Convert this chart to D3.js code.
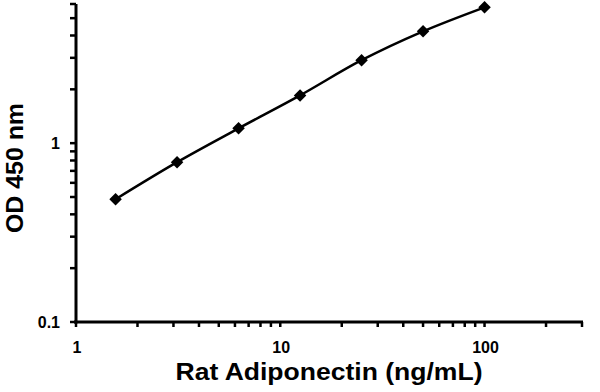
<!DOCTYPE html>
<html>
<head>
<meta charset="utf-8">
<script src="https://cdn.jsdelivr.net/npm/d3@7"></script>
<style>
  body { margin: 0; background: #fff; }
  text { font-family: "Liberation Sans", Arial, sans-serif; font-weight: bold; fill: #000; }
</style>
</head>
<body>
<div id="chart"></div>
<script>
// data
const concentration = [1.5625, 3.125, 6.25, 12.5, 25, 50, 100];
const od450 = [0.486, 0.783, 1.21, 1.85, 2.91, 4.22, 5.75];

const xTickLabels = [1, 10, 100];
const yTickLabels = [0.1, 1];
const xMinor = [2, 3, 4, 5, 6, 7, 8, 9, 20, 30, 40, 50, 60, 70, 80, 90, 200, 300];
const yMinor = [0.2, 0.3, 0.4, 0.5, 0.6, 0.7, 0.8, 0.9, 2, 3, 4, 5, 6];

const width = 600, height = 392;

const svg = d3.select('#chart')
    .append('svg')
    .attr('width', width)
    .attr('height', height);

const x = d3.scaleLog().domain([1, 300]).range([76, 582]);
const y = d3.scaleLog().domain([0.1, 6]).range([322, 4]);

// x axis
const xAxis = svg.append('g').attr('transform', 'translate(0,322)');
xAxis.append('line')
    .attr('x1', x(1) - 2).attr('x2', x(300) + 1)
    .attr('stroke', '#000').attr('stroke-width', 3);
xAxis.selectAll('.tick')
    .data(xTickLabels.concat(xMinor))
    .enter().append('line')
    .attr('x1', d => x(d)).attr('x2', d => x(d))
    .attr('y1', 0).attr('y2', 5)
    .attr('stroke', '#000').attr('stroke-width', 2.5);
xAxis.selectAll('.lbl')
    .data(xTickLabels)
    .enter().append('text')
    .attr('x', d => x(d) + 1)
    .attr('y', 31)
    .attr('text-anchor', 'middle')
    .style('font-size', '16px')
    .text(d => d);

// y axis
const yAxis = svg.append('g').attr('transform', 'translate(76,0)');
yAxis.append('line')
    .attr('y1', y(6) ).attr('y2', y(0.1) + 1.5)
    .attr('stroke', '#000').attr('stroke-width', 3);
yAxis.selectAll('.tick')
    .data(yTickLabels.concat(yMinor))
    .enter().append('line')
    .attr('y1', d => y(d)).attr('y2', d => y(d))
    .attr('x1', -6).attr('x2', 0)
    .attr('stroke', '#000').attr('stroke-width', 2.5);
yAxis.selectAll('.lbl')
    .data(yTickLabels)
    .enter().append('text')
    .attr('x', -16)
    .attr('y', d => y(d) + 6)
    .attr('text-anchor', 'end')
    .style('font-size', '16px')
    .text(d => d);

// axis titles
svg.append('text')
    .attr('x', 329).attr('y', 380)
    .attr('text-anchor', 'middle')
    .attr('textLength', 307)
    .attr('lengthAdjust', 'spacingAndGlyphs')
    .style('font-size', '23px')
    .text('Rat Adiponectin (ng/mL)');

svg.append('text')
    .attr('transform', 'translate(23,168) rotate(-90)')
    .attr('text-anchor', 'middle')
    .attr('textLength', 130)
    .attr('lengthAdjust', 'spacingAndGlyphs')
    .style('font-size', '23px')
    .text('OD 450 nm');

// curve + markers
const points = concentration.map((c, i) => [c, od450[i]]);

svg.append('path')
    .datum(points)
    .attr('fill', 'none')
    .attr('stroke', '#000')
    .attr('stroke-width', 2.5)
    .attr('d', d3.line()
        .x(d => x(d[0]))
        .y(d => y(d[1]))
        .curve(d3.curveCatmullRom));

svg.selectAll('.pt')
    .data(points)
    .enter().append('path')
    .attr('transform', d => `translate(${x(d[0])},${y(d[1])}) rotate(45)`)
    .attr('d', d3.symbol(d3.symbolSquare, 78))
    .attr('fill', '#000');
</script>
</body>
</html>
